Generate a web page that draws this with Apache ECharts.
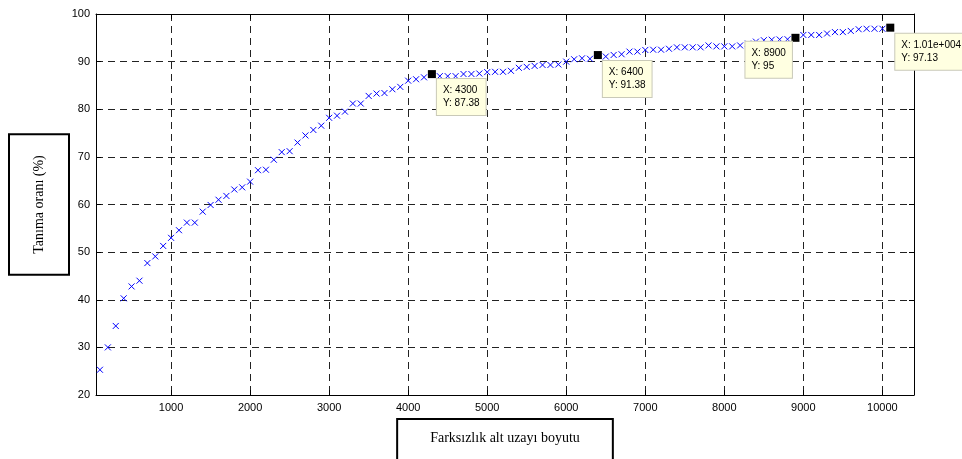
<!DOCTYPE html>
<html>
<head>
<meta charset="utf-8">
<script src="https://cdn.jsdelivr.net/npm/echarts@6/dist/echarts.min.js"></script>
<style>
  html, body { margin: 0; padding: 0; background: #fff; }
  #chart { width: 962px; height: 459px; }
</style>
</head>
<body>
<div id="chart"></div>
<script>
// Subspace size (x) and recognition rate in % (y)
const subspaceSizes = [];
for (let s = 100; s <= 10100; s += 100) subspaceSizes.push(s);

const recognitionRates = [
  25.3, 30.0, 34.5, 40.3, 42.8, 44.0, 47.7, 49.1, 51.3, 53.0,
  54.6, 56.2, 56.2, 58.5, 59.9, 61.0, 61.8, 63.15, 63.6, 64.8,
  67.2, 67.3, 69.4, 71.0, 71.2, 73.0, 74.5, 75.65, 76.55, 78.2,
  78.65, 79.5, 81.2, 81.2, 82.8, 83.3, 83.4, 84.2, 84.7, 86.0,
  86.3, 86.7, 87.38, 86.95, 86.95, 86.95, 87.4, 87.4, 87.5, 87.8,
  87.86, 87.86, 88.07, 88.7, 88.9, 89.1, 89.3, 89.3, 89.4, 90.0,
  90.5, 90.7, 90.6, 91.38, 91.07, 91.4, 91.55, 92.1, 92.1, 92.45,
  92.5, 92.5, 92.7, 93.0, 93.0, 93.0, 93.0, 93.4, 93.2, 93.2,
  93.2, 93.4, 93.8, 94.2, 94.5, 94.6, 94.65, 94.7, 95.0, 95.6,
  95.6, 95.6, 95.9, 96.2, 96.2, 96.45, 96.8, 96.9, 96.9, 96.9,
  97.13
];

// Data tips
const tipX = [4300, 6400, 8900, 10100];
const tipY = [87.38, 91.38, 95, 97.13];

// Axis ticks
const xTicks = [1000, 2000, 3000, 4000, 5000, 6000, 7000, 8000, 9000, 10000];
const yTicks = [20, 30, 40, 50, 60, 70, 80, 90, 100];

const xTitle = 'Farksızlık alt uzayı boyutu';
const yTitle = 'Tanıma oranı (%)';

// Label offsets for each data tip box (relative to the marker's box)
const tipOffsets = [[9, 9], [9, 10], [-46, 8], [9, 10]];

function fmtNum(v) {
  if (v >= 10000) {
    const e = v.toExponential(2).split('e');
    const exp = parseInt(e[1], 10);
    return e[0] + 'e' + (exp >= 0 ? '+' : '-') + String(Math.abs(exp)).padStart(3, '0');
  }
  return String(v);
}

const tickFont = {
  fontFamily: 'Liberation Sans, Arial, sans-serif', fontSize: 11, color: '#000',
  formatter: v => String(v)
};
const gridLine = { show: true, lineStyle: { color: '#222', type: [7, 5], width: 1 } };
const axisLine = { show: true, onZero: false, lineStyle: { color: '#000', width: 1 } };

const chart = echarts.init(document.getElementById('chart'), null, { renderer: 'canvas' });

chart.setOption({
  backgroundColor: '#fff',
  animation: false,
  grid: { left: 96, right: 48, top: 14, bottom: 64, containLabel: false, outerBoundsMode: 'none' },
  xAxis: [{
    type: 'value', min: 50, max: 10400, position: 'bottom',
    axisLine: axisLine,
    axisTick: { show: true, inside: true, length: 5, customValues: xTicks, lineStyle: { color: '#000' } },
    axisLabel: Object.assign({ customValues: xTicks, margin: 7 }, tickFont),
    splitLine: gridLine,
    name: xTitle, nameLocation: 'middle', nameGap: 20,
    nameTextStyle: {
      fontFamily: 'Liberation Serif, Times New Roman, serif', fontSize: 14, color: '#000',
      borderColor: '#000', borderWidth: 2, padding: [11, 32, 30, 32], backgroundColor: '#fff'
    }
  }, {
    type: 'value', min: 50, max: 10400, position: 'top',
    axisLine: axisLine,
    axisTick: { show: true, inside: true, length: 5, customValues: xTicks, lineStyle: { color: '#000' } },
    axisLabel: { show: false },
    splitLine: { show: false }
  }],
  yAxis: [{
    type: 'value', min: 20, max: 100, interval: 10, position: 'left',
    axisLine: axisLine,
    axisTick: { show: true, inside: true, length: 5, lineStyle: { color: '#000' } },
    axisLabel: Object.assign({ margin: 6 }, tickFont),
    splitLine: gridLine,
    name: yTitle, nameLocation: 'middle', nameGap: 28, nameRotate: 90,
    nameMoveOverlap: false,
    nameTextStyle: {
      fontFamily: 'Liberation Serif, Times New Roman, serif', fontSize: 14, color: '#000',
      borderColor: '#000', borderWidth: 2, padding: [22, 20, 22, 20], backgroundColor: '#fff'
    }
  }, {
    type: 'value', min: 20, max: 100, interval: 10, position: 'right',
    axisLine: axisLine,
    axisTick: { show: true, inside: true, length: 5, lineStyle: { color: '#000' } },
    axisLabel: { show: false },
    splitLine: { show: false }
  }],
  series: [{
    name: 'rate',
    type: 'scatter',
    xAxisIndex: 0, yAxisIndex: 0,
    symbol: 'path://M0 0L10 10M10 0L0 10',
    symbolSize: 6,
    itemStyle: { color: '#0000ff', borderColor: '#0000ff', borderWidth: 1, opacity: 1 },
    data: subspaceSizes.map((x, i) => [x, recognitionRates[i]]),
    z: 2
  }, {
    name: 'tips',
    type: 'scatter',
    xAxisIndex: 0, yAxisIndex: 0,
    symbol: 'rect',
    symbolSize: 8,
    itemStyle: { color: '#000', opacity: 1 },
    data: tipX.map((x, i) => ({
      value: [x, tipY[i]],
      label: {
        show: true,
        position: tipOffsets[i],
        formatter: 'X: ' + fmtNum(x) + '\nY: ' + fmtNum(tipY[i]),
        fontFamily: 'Liberation Sans, Arial, sans-serif',
        fontSize: 10,
        lineHeight: 13,
        color: '#000',
        backgroundColor: '#ffffe1',
        borderColor: '#c9c9b8',
        borderWidth: 1,
        padding: [5, 6, 5, 6]
      }
    })),
    z: 5
  }]
});
</script>
</body>
</html>
